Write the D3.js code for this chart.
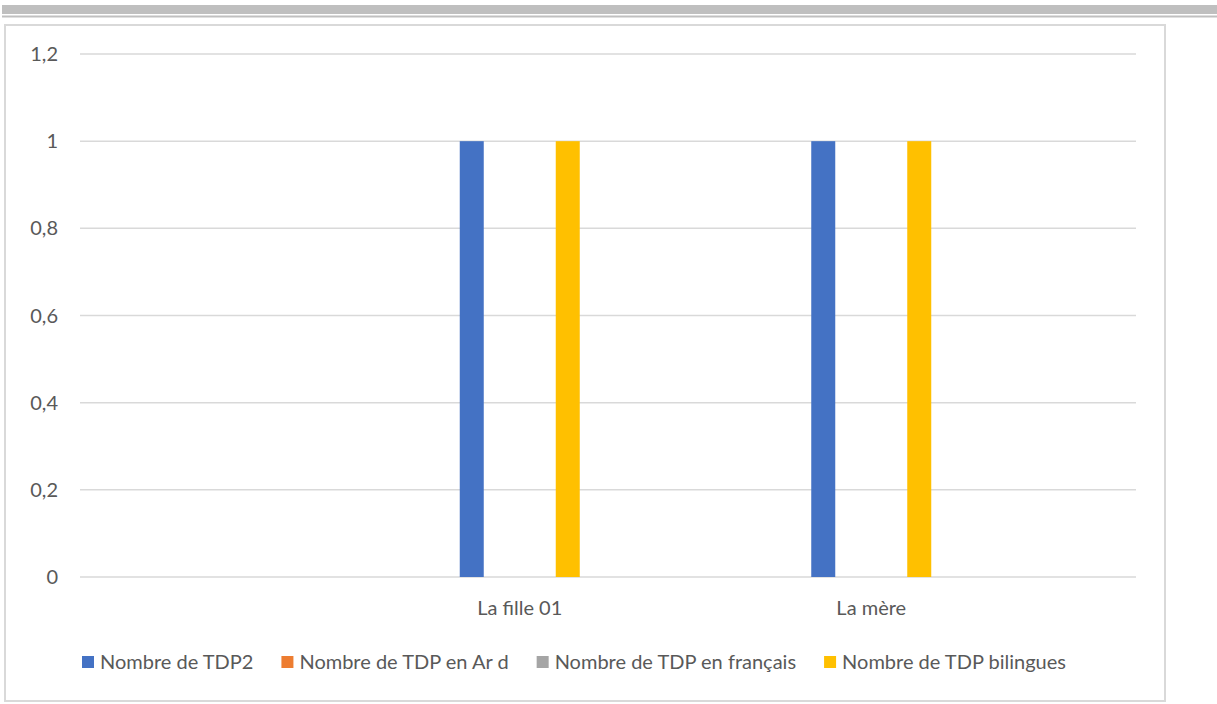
<!DOCTYPE html>
<html>
<head>
<meta charset="utf-8">
<script src="https://cdn.jsdelivr.net/npm/d3@7"></script>
<style>
  html, body { margin: 0; padding: 0; background: #ffffff; }
  svg { display: block; }
  text { font-family: Lato, "Open Sans", sans-serif; fill: #595959; }
</style>
</head>
<body>
<svg id="chart" width="1217" height="704"></svg>
<script>
// Categories on the horizontal axis
const categories = ["La fille 01", "La mère"];

// One value per category for each series (slot order as drawn)
const seriesNames = ["Nombre de TDP2", "Nombre de TDP en Ar d", "Nombre de TDP en français", "", "Nombre de TDP bilingues"];
const seriesColors = ["#4472c4", "#ed7d31", "#a5a5a5", "#5b9bd5", "#ffc000"];
const tdp2 = [1, 1];
const tdpArD = [0, 0];
const tdpFrancais = [0, 0];
const tdpAutre = [0, 0];
const tdpBilingues = [1, 1];
const seriesValues = [tdp2, tdpArD, tdpFrancais, tdpAutre, tdpBilingues];

// Value axis ticks
const yTicks = [0, 0.2, 0.4, 0.6, 0.8, 1, 1.2];
const yTickLabels = ["0", "0,2", "0,4", "0,6", "0,8", "1", "1,2"];

const svg = d3.select("#chart");

// Page decoration above the chart
svg.append("rect").attr("x", 2).attr("y", 5).attr("width", 1215).attr("height", 9).attr("fill", "#bfbfbf");
svg.append("rect").attr("x", 2).attr("y", 15.5).attr("width", 1215).attr("height", 2).attr("fill", "#bfbfbf");

// Chart frame
svg.append("rect")
  .attr("x", 5).attr("y", 25).attr("width", 1160).attr("height", 676)
  .attr("fill", "#ffffff").attr("stroke", "#d9d9d9").attr("stroke-width", 2);

const plotLeft = 80, plotRight = 1136;

const y = d3.scaleLinear().domain([0, 1.2]).range([577, 54]);

// Category bands
const x0 = d3.scaleBand().domain(categories).range([344, 1047]);
const x1 = d3.scaleBand().domain(d3.range(seriesNames.length)).range([0, 120]);

// Gridlines
svg.append("g").selectAll("line")
  .data(yTicks)
  .join("line")
  .attr("x1", plotLeft).attr("x2", plotRight)
  .attr("y1", d => y(d)).attr("y2", d => y(d))
  .attr("stroke", "#d9d9d9").attr("stroke-width", 1.5);

// Value axis labels
svg.append("g").selectAll("text")
  .data(yTicks)
  .join("text")
  .attr("x", 58)
  .attr("y", d => y(d))
  .attr("dy", "0.35em")
  .attr("text-anchor", "end")
  .attr("font-size", 20)
  .text((d, i) => yTickLabels[i]);

// Bars
const groups = svg.append("g").selectAll("g")
  .data(categories)
  .join("g")
  .attr("transform", d => `translate(${x0(d) + x0.bandwidth() / 2 - 60},0)`);

groups.selectAll("rect")
  .data((d, ci) => seriesValues.map((vals, si) => ({ si, v: vals[ci] })))
  .join("rect")
  .attr("x", d => x1(d.si))
  .attr("width", x1.bandwidth())
  .attr("y", d => y(d.v))
  .attr("height", d => y(0) - y(d.v))
  .attr("fill", d => seriesColors[d.si]);

// Category labels
svg.append("g").selectAll("text")
  .data(categories)
  .join("text")
  .attr("x", d => x0(d) + x0.bandwidth() / 2)
  .attr("y", 615)
  .attr("text-anchor", "middle")
  .attr("font-size", 20)
  .text(d => d);

// Legend
const legend = svg.append("g").attr("transform", "translate(82,662)");
let lx = 0;
seriesNames.forEach((name, i) => {
  if (!name) return;
  const item = legend.append("g").attr("transform", `translate(${lx},0)`);
  item.append("rect").attr("x", 0).attr("y", -6).attr("width", 12).attr("height", 12)
    .attr("fill", seriesColors[i]);
  const t = item.append("text").attr("x", 18).attr("dy", "0.35em")
    .attr("font-size", 20).text(name);
  lx += 18 + t.node().getComputedTextLength() + 28;
});
</script>
</body>
</html>
